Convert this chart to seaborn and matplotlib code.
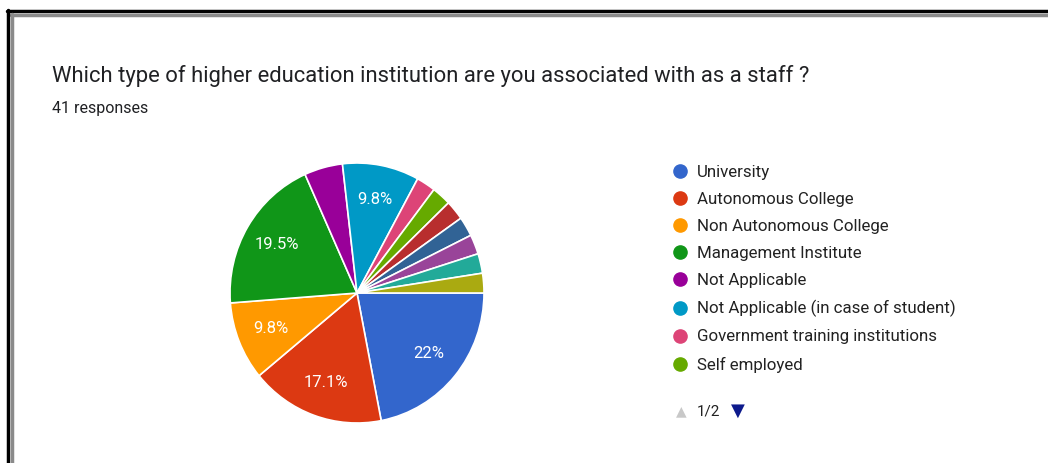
import matplotlib
matplotlib.use("Agg")
import matplotlib.pyplot as plt
import seaborn as sns
from matplotlib.lines import Line2D

sns.set_theme(style="white")
plt.rcParams['font.family'] = ['Roboto', 'DejaVu Sans']

# ---- data (counts out of 41 responses) ----
categories = [
    "University",
    "Autonomous College",
    "Non Autonomous College",
    "Management Institute",
    "Not Applicable",
    "Not Applicable (in case of student)",
    "Government training institutions",
    "Self employed",
    "Other 1",
    "Other 2",
    "Other 3",
    "Other 4",
    "Other 5",
]
counts = [9, 7, 4, 8, 2, 4, 1, 1, 1, 1, 1, 1, 1]
colors = ["#3366cc", "#dc3912", "#ff9900", "#109618", "#990099", "#0099c6",
          "#dd4477", "#66aa00", "#b82e2e", "#316395", "#994499", "#22aa99",
          "#aaaa11"]
legend_visible = 8  # page 1 of 2 of the legend
title = "Which type of higher education institution are you associated with as a staff ?"
subtitle = "41 responses"

W, H = 1048, 463
fig = plt.figure(figsize=(W / 100, H / 100), dpi=100)
fig.patch.set_facecolor("white")

# pie axes: center (357, 293) px, radii ~127 x 130 px (screenshot slightly stretched)
cx, cy, rx, ry = 357, 293, 127, 130
ax = fig.add_axes([(cx - rx) / W, (H - cy - ry) / H, 2 * rx / W, 2 * ry / H])


def fmt(p):
    if p < 7:
        return ""
    s = f"{p:.1f}"
    if s.endswith(".0"):
        s = s[:-2]
    return s + "%"


wedges, texts, autotexts = ax.pie(
    counts, colors=colors, startangle=0, counterclock=False,
    autopct=fmt, pctdistance=0.73,
    wedgeprops=dict(edgecolor="white", linewidth=1.2),
    textprops=dict(color="white", fontsize=12),
)
ax.set_aspect("auto")
ax.set_xlim(-1.0, 1.0)
ax.set_ylim(-1.0, 1.0)

# title texts
fig.text(52 / W, 1 - 76 / H, title, fontsize=15.8, color="#202124",
         va="center", ha="left")
fig.text(52 / W, 1 - 108 / H, subtitle, fontsize=11.5, color="#202124",
         va="center", ha="left")

# legend (first page)
handles = [Line2D([0], [0], marker="o", linestyle="", markersize=9.5,
                  markerfacecolor=c, markeredgecolor=c) for c in colors[:legend_visible]]
leg = fig.legend(handles, categories[:legend_visible], loc="upper left",
                 bbox_to_anchor=(673 / W, 1 - 165 / H), frameon=False,
                 fontsize=12.2, labelspacing=0.71, handlelength=0.8,
                 handletextpad=0.62, borderaxespad=0, borderpad=0)
for t in leg.get_texts():
    t.set_color("#222222")

# pager
fig.text(681 / W, 1 - 411 / H, "\u25B2", fontsize=10, color="#c8c8c8",
         ha="center", va="center", family=["DejaVu Sans"])
fig.text(697 / W, 1 - 411 / H, "1/2", fontsize=11, color="#222222",
         ha="left", va="center")
fig.text(738 / W, 1 - 411 / H, "\u25BC", fontsize=13, color="#0d1a8c",
         ha="center", va="center", family=["DejaVu Sans"])

# screenshot frame (top and left edges)
fig.add_artist(Line2D([7 / W, 1], [1 - 11 / H, 1 - 11 / H], color="black", lw=2.5,
                      transform=fig.transFigure))
fig.add_artist(Line2D([11 / W, 1], [1 - 15 / H, 1 - 15 / H], color="#8a8a8a", lw=2.5,
                      transform=fig.transFigure))
fig.add_artist(Line2D([7.5 / W, 7.5 / W], [0, 1 - 10 / H], color="black", lw=2.5,
                      transform=fig.transFigure))
fig.add_artist(Line2D([12 / W, 12 / W], [0, 1 - 14 / H], color="#8a8a8a", lw=2.5,
                      transform=fig.transFigure))

fig.savefig("out.png", dpi=100, facecolor="white")
